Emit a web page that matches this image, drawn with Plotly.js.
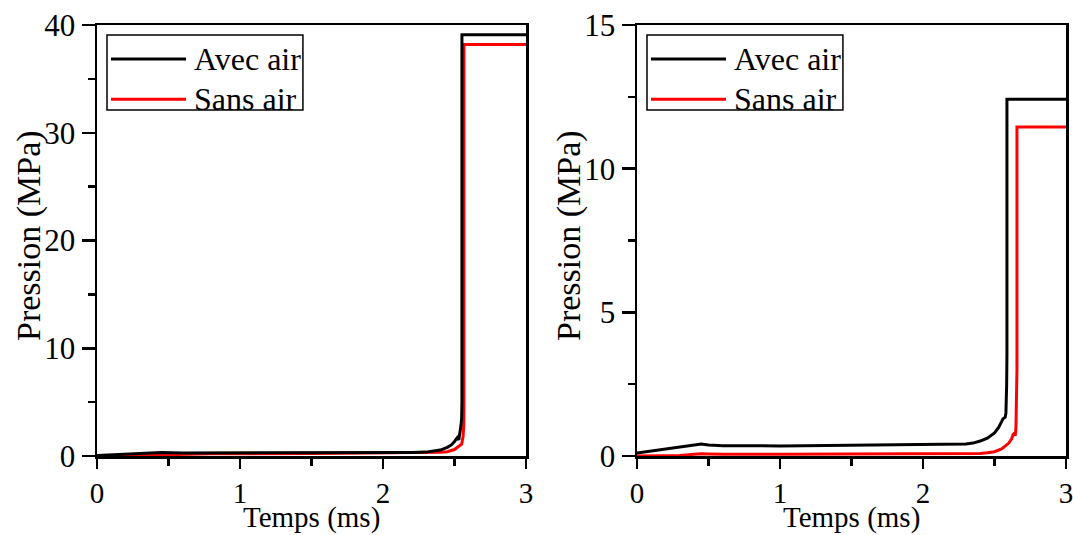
<!DOCTYPE html>
<html>
<head>
<meta charset="utf-8">
<script src="https://cdn.plot.ly/plotly-3.0.1.min.js"></script>
<style>html,body{margin:0;padding:0;background:#fff;}#chart{width:1073px;height:535px;}</style>
</head>
<body>
<div id="chart"></div>
<script>
// ---- Data ----
// Left panel
const tAvecL = [0, 0.1, 0.2, 0.3, 0.45, 0.6, 1.0, 1.5, 2.0, 2.2, 2.3, 2.35, 2.4, 2.45, 2.48, 2.5, 2.52, 2.53, 2.54, 2.545, 2.55, 2.552, 2.552, 3.0];
const pAvecL = [0.05, 0.1, 0.15, 0.2, 0.32, 0.28, 0.28, 0.3, 0.31, 0.33, 0.36, 0.42, 0.55, 0.8, 1.05, 1.35, 1.7, 1.5, 2.2, 2.8, 3.5, 5.0, 39.1, 39.1];
const tSansL = [0, 0.2, 0.45, 0.6, 0.8, 1.5, 2.0, 2.3, 2.4, 2.45, 2.5, 2.53, 2.55, 2.56, 2.565, 2.566, 2.566, 3.0];
const pSansL = [0, 0.05, 0.15, 0.16, 0.2, 0.24, 0.27, 0.3, 0.34, 0.4, 0.6, 0.9, 1.1, 1.8, 3.0, 5.0, 38.2, 38.2];
// Right panel
const tAvecR = [0, 0.1, 0.2, 0.3, 0.45, 0.5, 0.6, 1.0, 1.2, 1.5, 2.0, 2.2, 2.3, 2.35, 2.4, 2.45, 2.5, 2.53, 2.56, 2.575, 2.58, 2.585, 2.587, 2.587, 3.0];
const pAvecR = [0.1, 0.17, 0.24, 0.3, 0.42, 0.38, 0.36, 0.35, 0.36, 0.37, 0.38, 0.39, 0.42, 0.45, 0.52, 0.62, 0.8, 1.0, 1.3, 1.35, 1.5, 2.5, 3.5, 12.42, 12.42];
const tSansR = [0, 0.3, 0.4, 0.45, 0.5, 0.6, 1.0, 2.0, 2.3, 2.4, 2.45, 2.5, 2.55, 2.6, 2.62, 2.63, 2.64, 2.645, 2.65, 2.655, 2.657, 2.657, 3.0];
const pSansR = [0, 0.02, 0.06, 0.08, 0.07, 0.06, 0.06, 0.07, 0.08, 0.09, 0.11, 0.15, 0.25, 0.45, 0.6, 0.75, 0.8, 0.7, 1.0, 2.0, 3.0, 11.45, 11.45];

const seriesNames = ["Avec air", "Sans air"];
const seriesColors = ["#000000", "#ff0000"];
const xTickVals = [0, 1, 2, 3];
const yTickValsL = [0, 10, 20, 30, 40];
const yTickValsR = [0, 5, 10, 15];
const xTitle = "Temps (ms)";
const yTitle = "Pression (MPa)";

const FONT = "Liberation Serif, Times New Roman, serif";

function line(x, y, name, color, xa, ya) {
  return {x: x, y: y, name: name, xaxis: xa, yaxis: ya, type: 'scatter', mode: 'lines',
    line: {color: color, width: 3}, showlegend: false, hoverinfo: 'skip'};
}

const traces = [
  line(tSansL, pSansL, seriesNames[1], seriesColors[1], 'x', 'y'),
  line(tAvecL, pAvecL, seriesNames[0], seriesColors[0], 'x', 'y'),
  line(tSansR, pSansR, seriesNames[1], seriesColors[1], 'x2', 'y2'),
  line(tAvecR, pAvecR, seriesNames[0], seriesColors[0], 'x2', 'y2')
];

function xAxis(domain, anchor) {
  return {domain: domain, anchor: anchor, range: [0, 3], tickvals: xTickVals, ticktext: xTickVals.map(String),
    ticks: 'outside', ticklen: 10, tickwidth: 2.5, tickcolor: '#000', ticklabeloverflow: 'allow',
    minor: {dtick: 0.5, ticks: 'outside', ticklen: 7, tickwidth: 2.5, tickcolor: '#000'},
    showline: true, linecolor: '#000', linewidth: 2.5, mirror: true, showgrid: false, zeroline: false,
    tickfont: {family: FONT, size: 29, color: '#000'}};
}
function yAxis(domain, anchor, range, vals, minorStep) {
  return {domain: domain, anchor: anchor, range: range, tickvals: vals, ticktext: vals.map(String),
    ticks: 'outside', ticklen: 13, tickwidth: 2.5, tickcolor: '#000', ticklabeloverflow: 'allow',
    minor: {dtick: minorStep, ticks: 'outside', ticklen: 7, tickwidth: 2.5, tickcolor: '#000'},
    showline: true, linecolor: '#000', linewidth: 2.5, mirror: true, showgrid: false, zeroline: false,
    tickfont: {family: FONT, size: 31, color: '#000'}};
}

const W = 1073, H = 535;
const yDom = [(H - 456) / H, (H - 25) / H];
const layout = {
  width: W, height: H,
  margin: {l: 0, r: 0, t: 0, b: 0},
  paper_bgcolor: '#fff', plot_bgcolor: '#fff',
  showlegend: false,
  xaxis: xAxis([97 / W, 526 / W], 'y'),
  yaxis: yAxis(yDom, 'x', [0, 40], yTickValsL, 5),
  xaxis2: xAxis([637 / W, 1066 / W], 'y2'),
  yaxis2: yAxis(yDom, 'x2', [0, 15], yTickValsR, 2.5),
  shapes: [], annotations: []
};

const yTitleX = [29, 569];
['x', 'x2'].forEach(function (xa, i) {
  const ya = i === 0 ? 'y' : 'y2';
  const xr = xa + ' domain', yr = ya + ' domain';
  // x-axis title (annotation sitting at the page bottom)
  layout.annotations.push({xref: xr, yref: 'paper', x: 0.5, y: 0, xanchor: 'center', yanchor: 'bottom',
    borderpad: 0, text: xTitle, showarrow: false, font: {family: FONT, size: 29, color: '#000'}});
  // y-axis title (rotated annotation)
  layout.annotations.push({xref: 'paper', yref: 'paper', x: yTitleX[i] / W, y: (H - 236) / H,
    xanchor: 'center', yanchor: 'middle', textangle: -90, borderpad: 0,
    text: yTitle, showarrow: false, font: {family: FONT, size: 34, color: '#000'}});
  // Manual legend (box with long line samples)
  layout.shapes.push({type: 'rect', xref: xr, yref: yr, x0: 0.0233, x1: 0.480, y0: 0.8028, y1: 0.9768,
    line: {color: '#000', width: 1.5}, fillcolor: 'rgba(0,0,0,0)'});
  const ys = [0.921, 0.828];
  seriesNames.forEach(function (nm, k) {
    layout.shapes.push({type: 'line', xref: xr, yref: yr, x0: 0.0326, x1: 0.2075, y0: ys[k], y1: ys[k],
      line: {color: seriesColors[k], width: 3}});
    layout.annotations.push({xref: xr, yref: yr, x: 0.2215, y: ys[k], xanchor: 'left', yanchor: 'middle',
      text: nm, showarrow: false, font: {family: FONT, size: 32, color: '#000'}});
  });
});

Plotly.newPlot('chart', traces, layout, {staticPlot: true, displayModeBar: false});
</script>
</body>
</html>
